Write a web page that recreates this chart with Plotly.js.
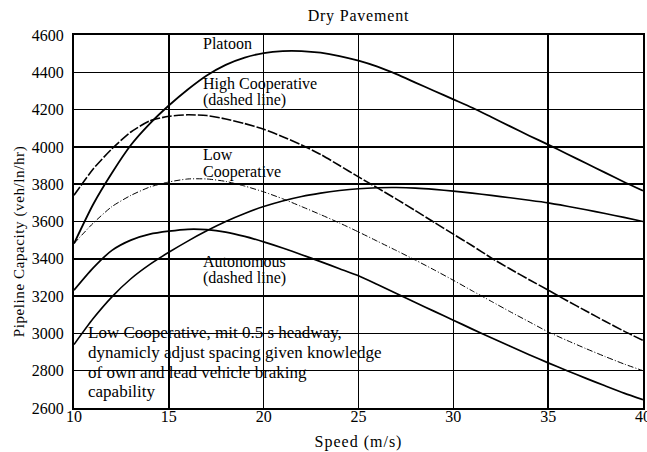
<!DOCTYPE html>
<html>
<head>
<meta charset="utf-8">
<script src="https://cdn.plot.ly/plotly-3.0.1.min.js"></script>
<style>
  html, body { margin: 0; padding: 0; background: #fff; }
  #chart { width: 647px; height: 452px; }
  .gtitle { letter-spacing: 0.8px; }
  .xtitle { letter-spacing: 1px; }
  .ytitle { letter-spacing: 0.6px; }
  .g-ytitle { transform: translate(0px, 20px); }
</style>
</head>
<body>
<div id="chart"></div>
<script>
// Speed (m/s)
const speed = [10,11,12,13,14,15,16,17,18,19,20,21,22,23,24,25,26,27,28,29,30,31,32,33,34,35,36,37,38,39,40];

// Pipeline capacity (veh/ln/hr)
const platoon = [3482,3690,3860,4010,4125,4222,4308,4383,4440,4479,4503,4514,4514,4505,4487,4462,4430,4390,4345,4300,4255,4210,4160,4110,4060,4012,3962,3912,3862,3812,3765];
const highCoop = [3741,3880,3990,4080,4140,4164,4172,4168,4150,4125,4095,4055,4010,3960,3900,3839,3780,3720,3658,3595,3532,3470,3405,3345,3288,3232,3175,3120,3065,3012,2962];
const lowCoop = [3482,3590,3680,3740,3785,3812,3828,3828,3815,3790,3759,3722,3680,3637,3592,3544,3494,3444,3393,3340,3285,3228,3172,3116,3062,3008,2962,2918,2876,2836,2800];
const autonomous = [3232,3350,3445,3500,3532,3548,3558,3556,3543,3520,3491,3458,3422,3385,3347,3309,3262,3214,3166,3118,3071,3023,2977,2931,2886,2842,2800,2759,2719,2680,2645];
const lowCoopMit = [2940,3078,3196,3293,3370,3435,3495,3550,3600,3643,3680,3710,3734,3752,3766,3776,3781,3782,3779,3772,3763,3752,3740,3727,3714,3700,3682,3663,3643,3622,3600];

// Text labels
const titleText = "Dry Pavement";
const xTitle = "Speed (m/s)";
const yTitle = "Pipeline Capacity (veh/ln/hr)";
const labelLines = [
  {t: "Platoon", x: 16.75, y: 4556},
  {t: "High Cooperative", x: 16.75, y: 4336},
  {t: "(dashed line)", x: 16.75, y: 4250},
  {t: "Low", x: 16.75, y: 3960},
  {t: "Cooperative", x: 16.75, y: 3868},
  {t: "Autonomous", x: 16.75, y: 3387},
  {t: "(dashed line)", x: 16.75, y: 3296}
];
const noteLines = [
  "Low Cooperative, mit 0.5 s headway,",
  "dynamicly adjust spacing given knowledge",
  "of own and lead vehicle braking",
  "capability"
];
const noteY = [3005, 2898, 2791, 2689];

const serif = "'Liberation Serif', 'Times New Roman', serif";

function tr(name, y, width, dash) {
  return {
    type: 'scatter', mode: 'lines', name: name,
    x: speed, y: y,
    line: {color: '#000', width: width, dash: dash, shape: 'spline', smoothing: 0.6},
    hoverinfo: 'skip'
  };
}

const data = [
  tr('Platoon', platoon, 1.8, 'solid'),
  tr('High Cooperative', highCoop, 1.6, '10px,2px'),
  tr('Low Cooperative', lowCoop, 1.0, '6px,2px,1px,2px'),
  tr('Autonomous', autonomous, 1.7, 'solid'),
  tr('Low Cooperative, mit 0.5 s headway', lowCoopMit, 1.6, 'solid')
];

const annotations = [];
labelLines.forEach(l => annotations.push({
  x: l.x, y: l.y, xref: 'x', yref: 'y', text: l.t, showarrow: false, borderpad: 0,
  xanchor: 'left', yanchor: 'middle', font: {family: serif, size: 16, color: '#000'}
}));
noteLines.forEach((t, i) => annotations.push({
  x: 10.7, y: noteY[i], xref: 'x', yref: 'y', text: t, showarrow: false, borderpad: 0,
  xanchor: 'left', yanchor: 'middle', font: {family: serif, size: 17, color: '#000'}
}));

const layout = {
  width: 647, height: 452,
  margin: {l: 74, r: 4, t: 35, b: 44, pad: 0},
  paper_bgcolor: '#fff', plot_bgcolor: '#fff',
  showlegend: false,
  font: {family: serif, color: '#000', size: 16},
  title: {text: titleText, font: {family: serif, size: 16, color: '#000'}, x: 0.554, xanchor: 'center', y: 0.967, yanchor: 'middle'},
  xaxis: {
    range: [10, 40], dtick: 5, tick0: 10,
    showgrid: true, gridcolor: '#000', gridwidth: 1.5,
    showline: true, linecolor: '#000', linewidth: 2, mirror: true,
    zeroline: false, ticks: '', ticklabelstandoff: -7, ticklabeloverflow: 'allow',
    tickfont: {family: serif, size: 16, color: '#000'},
    title: {text: xTitle, font: {family: serif, size: 16, color: '#000'}, standoff: 12}
  },
  yaxis: {
    range: [2600, 4600], dtick: 200, tick0: 2600,
    showgrid: true, gridcolor: '#000', gridwidth: 1.5,
    showline: true, linecolor: '#000', linewidth: 2, mirror: true,
    zeroline: false, ticks: '', ticklabelstandoff: 5,
    tickfont: {family: serif, size: 16, color: '#000'},
    title: {text: yTitle, font: {family: serif, size: 15, color: '#000'}, standoff: 4}
  },
  annotations: annotations
};

Plotly.newPlot('chart', data, layout, {displayModeBar: false, staticPlot: true});
</script>
</body>
</html>
